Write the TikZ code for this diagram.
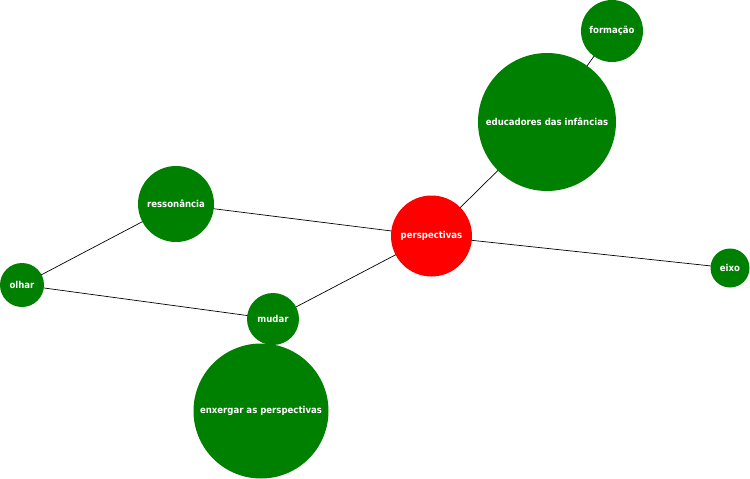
\documentclass[tikz,border=0pt]{standalone}
\usepackage{fontspec}
\setmainfont{DejaVu Sans}
\newfontfamily\lbl{DejaVu Sans Condensed}
\begin{document}
\begin{tikzpicture}[x=1pt,y=-1pt,
  bub/.style={circle,fill=green!50!black,inner sep=0pt,text=white,font=\lbl\bfseries\fontsize{9.5}{11}\selectfont},
  hub/.style={bub,fill=red},
  edge/.style={draw=black,line width=0.7pt}]
\useasboundingbox (0,0) rectangle (750,479);
\fill[white] (0,0) rectangle (750,479);
\coordinate (formacao) at (612,31);
\coordinate (educ) at (547,122);
\coordinate (resson) at (176,204);
\coordinate (persp) at (431.5,236);
\coordinate (eixo) at (730,268);
\coordinate (olhar) at (22,285);
\coordinate (mudar) at (273,319);
\coordinate (enx) at (261,411);
\draw[edge] (formacao) -- (educ);
\draw[edge] (educ) -- (persp);
\draw[edge] (resson) -- (persp);
\draw[edge] (persp) -- (eixo);
\draw[edge] (persp) -- (mudar);
\draw[edge] (olhar) -- (resson);
\draw[edge] (olhar) -- (mudar);
\draw[edge] (mudar) -- (enx);
\node[bub,minimum size=62pt] (nformacao) at (formacao) {formação};
\node[bub,minimum size=138pt] (neduc) at (educ) {educadores das infâncias};
\node[bub,minimum size=76pt] (nresson) at (resson) {ressonância};
\node[hub,minimum size=81pt] (npersp) at (persp) {perspectivas};
\node[bub,minimum size=39pt] (neixo) at (eixo) {eixo};
\node[bub,minimum size=44pt] (nolhar) at (olhar) {olhar};
\node[bub,minimum size=52pt] (nmudar) at (mudar) {mudar};
\node[bub,minimum size=135pt] (nenx) at (enx) {enxergar as perspectivas};
\end{tikzpicture}
\end{document}
